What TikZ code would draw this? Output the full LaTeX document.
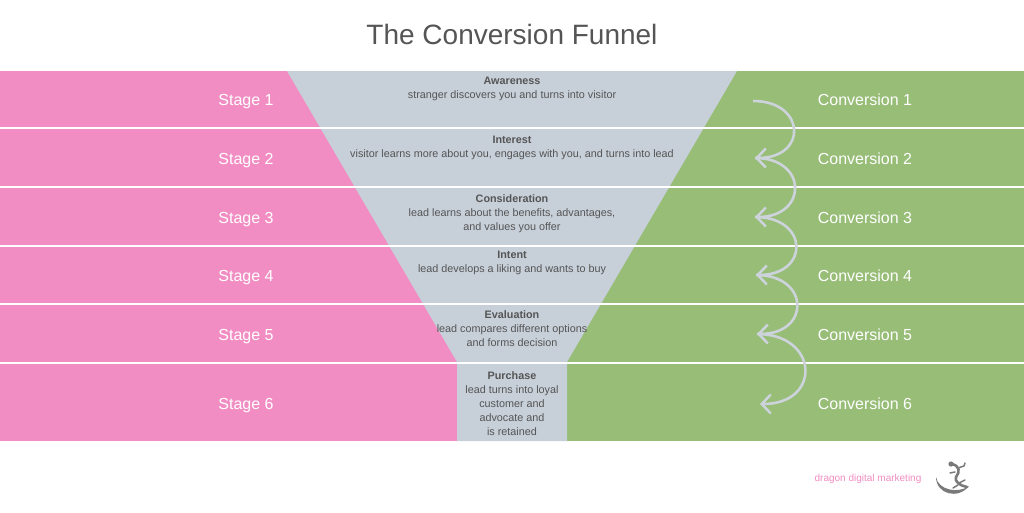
\documentclass[tikz,border=0pt]{standalone}
\usepackage{fontspec}
\setmainfont{Liberation Sans}
\usetikzlibrary{arrows.meta}
\definecolor{pinkc}{HTML}{F28DC3}
\definecolor{grayc}{HTML}{C7CFD9}
\definecolor{greenc}{HTML}{97BD77}
\definecolor{textc}{HTML}{555555}
\definecolor{arrc}{HTML}{CDD3DB}
\definecolor{logoc}{HTML}{7A7A7A}
\begin{document}
\begin{tikzpicture}[x=1pt,y=-1pt,
  band/.style={white,font=\fontsize{16}{19}\selectfont},
  ftext/.style={textc,align=center,anchor=north,inner sep=0pt,font=\fontsize{10.8}{14.2}\selectfont},
  sep/.style={white,line width=2pt},
  arr/.style={arrc,line width=2.6pt,-{Straight Barb[length=9pt,width=19pt]}}]
\useasboundingbox (0,0) rectangle (1024,512);
\fill[white] (0,0) rectangle (1024,512);
\node[textc,font=\fontsize{28}{31}\selectfont] (title) at (512,34) {The Conversion Funnel};
% bands
\fill[pinkc] (0,71) rectangle (512,441);
\fill[greenc] (512,71) rectangle (1024,441);
\fill[grayc] (287,71) -- (737,71) -- (567,362) -- (567,441) -- (457,441) -- (457,362) -- cycle;
\foreach \y in {128,187,246,304,363} \draw[sep] (0,\y) -- (1024,\y);
% stage labels
\node[band] (s1) at (246,102) {Stage 1};
\node[band] (s2) at (246,161) {Stage 2};
\node[band] (s3) at (246,220) {Stage 3};
\node[band] (s4) at (246,278) {Stage 4};
\node[band] (s5) at (246,337) {Stage 5};
\node[band] (s6) at (246,406) {Stage 6};
% conversion labels
\node[band] (c1) at (865,100) {Conversion 1};
\node[band] (c2) at (865,159) {Conversion 2};
\node[band] (c3) at (865,218) {Conversion 3};
\node[band] (c4) at (865,276) {Conversion 4};
\node[band] (c5) at (865,335) {Conversion 5};
\node[band] (c6) at (865,404) {Conversion 6};
% funnel texts
\node[ftext] (f1) at (512,77) {\textbf{Awareness}\\stranger discovers you and turns into visitor};
\node[ftext] (f2) at (512,136) {\textbf{Interest}\\visitor learns more about you, engages with you, and turns into lead};
\node[ftext] (f3) at (512,194) {\textbf{Consideration}\\lead learns about the benefits, advantages,\\and values you offer};
\node[ftext] (f4) at (512,251) {\textbf{Intent}\\lead develops a liking and wants to buy};
\node[ftext] (f5) at (512,310) {\textbf{Evaluation}\\lead compares different options\\and forms decision};
\node[ftext] (f6) at (512,371) {\textbf{Purchase}\\lead turns into loyal\\customer and\\advocate and\\is retained};
% arrows
\coordinate (a1) at (753,101);
\coordinate (a2) at (755,158);
\coordinate (a3) at (755,217);
\coordinate (a4) at (756,275);
\coordinate (a5) at (757,334);
\coordinate (a6) at (760,404);
\draw[arr] (a1) .. controls +(53,0) and +(53,0) .. (a2);
\draw[arr] (a2) .. controls +(53,0) and +(53,0) .. (a3);
\draw[arr] (a3) .. controls +(54,0) and +(54,0) .. (a4);
\draw[arr] (a4) .. controls +(54,0) and +(54,0) .. (a5);
\draw[arr] (a5) .. controls +(62,0) and +(62,0) .. (a6);
% logo
\node[pinkc,font=\fontsize{10}{12}\selectfont] (logo) at (868,478.5) {dragon digital marketing};
\fill[logoc] (936,477) .. controls (936,494) and (958,500) .. (969,486)
  .. controls (958,494) and (938,490) .. (936,477) -- cycle;
\draw[logoc,line width=2.6pt,line cap=round,line join=round] (952,464) .. controls (960,466) and (960,472) .. (956,477) .. controls (954,481) and (960,486) .. (967,487);
\draw[logoc,line width=1.5pt,line cap=round] (958,468) -- (964,466) -- (965,463) (955,472) -- (950,473) (959,483) -- (965,480) (958,485) -- (953,488);
\fill[logoc] (951,464) circle (2.6pt);
\end{tikzpicture}
\end{document}
